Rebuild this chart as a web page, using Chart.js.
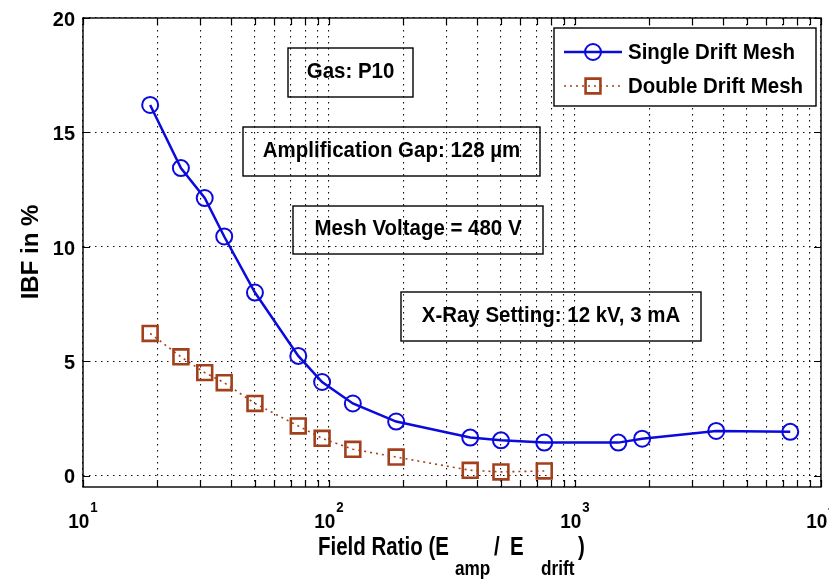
<!DOCTYPE html>
<html>
<head>
<meta charset="utf-8">
<script src="https://cdn.jsdelivr.net/npm/chart.js@4/dist/chart.umd.min.js"></script>
<style>
  html, body { margin: 0; padding: 0; background: #fff; }
  #wrap { width: 829px; height: 581px; }
</style>
</head>
<body>
<div id="wrap"><canvas id="c" width="829" height="581"></canvas></div>
<script>
// Field ratio E_amp / E_drift for each measurement
const fieldRatioSingle = [18.75, 25, 31.25, 37.5, 50, 75, 93.75, 125, 187.5, 375, 500, 750, 1500, 1875, 3750, 7500];
const ibfSingle        = [16.2, 13.44, 12.13, 10.45, 8.0, 5.23, 4.09, 3.15, 2.36, 1.66, 1.54, 1.44, 1.44, 1.61, 1.95, 1.91];
const fieldRatioDouble = [18.75, 25, 31.25, 37.5, 50, 75, 93.75, 125, 187.5, 375, 500, 750];
const ibfDouble        = [6.21, 5.19, 4.5, 4.06, 3.15, 2.17, 1.63, 1.15, 0.81, 0.23, 0.16, 0.2];

const seriesNames = ['Single Drift Mesh', 'Double Drift Mesh'];
const yTickValues = [0, 5, 10, 15, 20];
const xDecadeExponents = [1, 2, 3, 4];
const noteTexts = ['Gas: P10', 'Amplification Gap: 128 \u00B5m', 'Mesh Voltage = 480 V', 'X-Ray Setting: 12 kV, 3 mA'];

const FONT = '"Liberation Sans", Arial, Helvetica, sans-serif';
const BLUE = '#0a0adc';
const BROWN = '#a3401c';

// pixel boxes for the text notes inside the axes
const noteBoxes = [
  { x: 288, y: 48,  w: 125, h: 49 },
  { x: 243, y: 127, w: 297, h: 49 },
  { x: 293, y: 206, w: 250, h: 48 },
  { x: 401, y: 292, w: 300, h: 49 }
];

// log tick positions: 1..9 times each decade, up to the last decade
const xTickValues = [];
xDecadeExponents.forEach((e, i) => {
  const base = Math.pow(10, e);
  const top = i === xDecadeExponents.length - 1 ? 1 : 9;
  for (let m = 1; m <= top; m++) xTickValues.push(m * base);
});

const toPoints = (xs, ys) => xs.map((x, i) => ({ x: x, y: ys[i] }));

// bold text with a slight horizontal squeeze (narrow Helvetica look)
function drawText(ctx, text, x, y, size, sx, align, baseline) {
  ctx.save();
  ctx.font = `bold ${size}px ${FONT}`;
  ctx.textBaseline = baseline || 'alphabetic';
  const w = ctx.measureText(text).width * sx;
  let x0 = x;
  if (align === 'center') x0 = x - w / 2;
  else if (align === 'right') x0 = x - w;
  ctx.translate(x0, y);
  ctx.scale(sx, 1);
  ctx.textAlign = 'left';
  ctx.fillText(text, 0, 0);
  ctx.restore();
  return w;
}

const decorations = {
  id: 'decorations',
  beforeDatasetsDraw(chart) {
    const ctx = chart.ctx;
    ctx.save();
    ctx.strokeStyle = '#000';
    ctx.lineWidth = 1.4;
    ctx.fillStyle = '#000';
    noteTexts.forEach((t, i) => {
      const b = noteBoxes[i];
      ctx.strokeRect(b.x, b.y, b.w, b.h);
      drawText(ctx, t, b.x + b.w / 2, b.y + b.h / 2 - 1, 22, 0.93, 'center', 'middle');
    });
    ctx.restore();
  },
  afterDraw(chart) {
    const { ctx, chartArea: a, scales } = chart;
    const xs = scales.x, ys = scales.y;
    ctx.save();

    // axes box
    ctx.strokeStyle = '#000';
    ctx.lineWidth = 1.4;
    ctx.strokeRect(a.left, a.top, a.right - a.left, a.bottom - a.top);

    // inward tick marks on all four sides
    const tl = 7;
    ctx.lineWidth = 1.2;
    ctx.beginPath();
    xs.ticks.forEach(t => {
      const px = Math.round(xs.getPixelForValue(t.value)) + 0.5;
      ctx.moveTo(px, a.bottom); ctx.lineTo(px, a.bottom - tl);
      ctx.moveTo(px, a.top); ctx.lineTo(px, a.top + tl);
    });
    ys.ticks.forEach(t => {
      const py = Math.round(ys.getPixelForValue(t.value)) + 0.5;
      ctx.moveTo(a.left, py); ctx.lineTo(a.left + tl, py);
      ctx.moveTo(a.right, py); ctx.lineTo(a.right - tl, py);
    });
    ctx.stroke();

    // y tick labels
    ctx.fillStyle = '#000';
    ys.ticks.forEach(t => {
      drawText(ctx, String(t.value), a.left - 8, ys.getPixelForValue(t.value) + 2, 21, 0.95, 'right', 'middle');
    });

    // x tick labels as 10^n at each decade
    xs.ticks.forEach(t => {
      const e = Math.log10(t.value);
      if (Math.abs(e - Math.round(e)) > 1e-9) return;
      const px = xs.getPixelForValue(t.value);
      ctx.font = `bold 20px ${FONT}`;
      const w1 = ctx.measureText('10').width * 0.95;
      const sup = String(Math.round(e));
      ctx.font = `bold 14px ${FONT}`;
      const w2 = ctx.measureText(sup).width * 0.95;
      const x0 = px - (w1 + w2 + 1) / 2;
      drawText(ctx, '10', x0, 528, 20, 0.95, 'left');
      drawText(ctx, sup, x0 + w1 + 1, 512, 14, 0.95, 'left');
    });

    // x axis title with subscripts, offsets from the title start
    const parts = [
      { t: 'Field Ratio (E', dx: 0,   sub: false },
      { t: 'amp',            dx: 137, sub: true },
      { t: '/',              dx: 176, sub: false },
      { t: 'E',              dx: 192, sub: false },
      { t: 'drift',          dx: 223, sub: true },
      { t: ')',              dx: 260, sub: false }
    ];
    const tx0 = (a.left + a.right) / 2 - 134;
    parts.forEach(p => {
      if (p.sub) drawText(ctx, p.t, tx0 + p.dx, 575, 20, 0.86, 'left');
      else drawText(ctx, p.t, tx0 + p.dx, 555, 25, 0.82, 'left');
    });

    // y axis title
    ctx.save();
    ctx.translate(38, 252);
    ctx.rotate(-Math.PI / 2);
    drawText(ctx, 'IBF in %', 0, 0, 24, 1, 'center');
    ctx.restore();

    // legend
    const lg = { x: 554, y: 28, w: 262, h: 78 };
    ctx.fillStyle = '#fff';
    ctx.fillRect(lg.x, lg.y, lg.w, lg.h);
    ctx.strokeStyle = '#000';
    ctx.lineWidth = 1.4;
    ctx.strokeRect(lg.x, lg.y, lg.w, lg.h);
    const rows = [52, 86];
    chart.data.datasets.forEach((ds, i) => {
      const y = rows[i];
      ctx.save();
      ctx.strokeStyle = ds.borderColor;
      ctx.lineWidth = ds.borderWidth;
      ctx.setLineDash(ds.borderDash || []);
      ctx.beginPath();
      ctx.moveTo(564, y); ctx.lineTo(622, y);
      ctx.stroke();
      ctx.setLineDash([]);
      ctx.fillStyle = 'rgba(0,0,0,0)';
      ctx.strokeStyle = ds.pointBorderColor;
      ctx.lineWidth = ds.pointBorderWidth;
      Chart.helpers.drawPoint(ctx, {
        pointStyle: ds.pointStyle,
        radius: ds.pointRadius,
        borderWidth: ds.pointBorderWidth,
        rotation: 0
      }, 593, y);
      ctx.restore();
      ctx.fillStyle = '#000';
      drawText(ctx, ds.label, 628, y + 1, 22, 0.93, 'left', 'middle');
    });

    ctx.restore();
  }
};

new Chart(document.getElementById('c'), {
  type: 'scatter',
  data: {
    datasets: [
      {
        label: seriesNames[0],
        data: toPoints(fieldRatioSingle, ibfSingle),
        showLine: true,
        borderColor: BLUE,
        borderWidth: 2.5,
        pointStyle: 'circle',
        pointRadius: 8,
        pointBorderWidth: 2,
        pointBorderColor: BLUE,
        pointBackgroundColor: 'rgba(0,0,0,0)',
        tension: 0
      },
      {
        label: seriesNames[1],
        data: toPoints(fieldRatioDouble, ibfDouble),
        showLine: true,
        borderColor: BROWN,
        borderWidth: 1.6,
        borderDash: [2, 4],
        pointStyle: 'rect',
        pointRadius: 10.5,
        pointBorderWidth: 2.6,
        pointBorderColor: BROWN,
        pointBackgroundColor: 'rgba(0,0,0,0)',
        tension: 0
      }
    ]
  },
  options: {
    responsive: false,
    devicePixelRatio: 1,
    animation: false,
    events: [],
    layout: { autoPadding: false, padding: { left: 83, top: 18, right: 8, bottom: 94 } },
    plugins: { legend: { display: false }, tooltip: { enabled: false } },
    scales: {
      x: {
        type: 'logarithmic',
        min: 10,
        max: 10000,
        afterBuildTicks: s => { s.ticks = xTickValues.map(v => ({ value: v })); },
        ticks: { display: false, autoSkip: false },
        grid: { color: '#111', lineWidth: 1.1, drawTicks: false },
        border: { display: false, dash: [1.5, 4.5] }
      },
      y: {
        type: 'linear',
        min: -0.5,
        max: 20,
        afterBuildTicks: s => { s.ticks = yTickValues.map(v => ({ value: v })); },
        ticks: { display: false },
        grid: { color: '#111', lineWidth: 1.1, drawTicks: false },
        border: { display: false, dash: [1.5, 4.5] }
      }
    }
  },
  plugins: [decorations]
});
</script>
</body>
</html>
